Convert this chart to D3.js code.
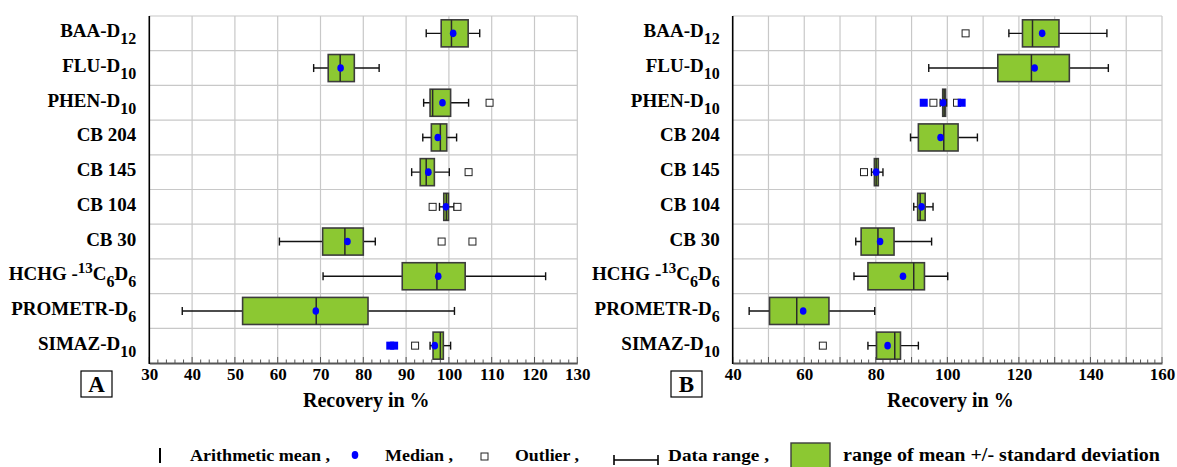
<!DOCTYPE html>
<html>
<head>
<meta charset="utf-8">
<script src="https://cdn.jsdelivr.net/npm/d3@7"></script>
<style>
  body { margin: 0; background: #fff; }
  svg { display: block; }
  text { font-family: "Liberation Serif", "Times New Roman", serif; font-weight: bold; fill: #000; }
</style>
</head>
<body>
<svg id="chart" width="1177" height="467"></svg>
<script>
// Compounds, top to bottom; each label is a list of [text, style] segments
const categories = ["BAA-D12", "FLU-D10", "PHEN-D10", "CB 204", "CB 145", "CB 104", "CB 30", "HCHG-13C6D6", "PROMETR-D6", "SIMAZ-D10"];
const categoryLabels = [
  [["BAA-D"], ["12", "sub"]],
  [["FLU-D"], ["10", "sub"]],
  [["PHEN-D"], ["10", "sub"]],
  [["CB 204"]],
  [["CB 145"]],
  [["CB 104"]],
  [["CB 30"]],
  [["HCHG -"], ["13", "sup"], ["C"], ["6", "sub"], ["D"], ["6", "sub"]],
  [["PROMETR-D"], ["6", "sub"]],
  [["SIMAZ-D"], ["10", "sub"]]
];

// Panel A – recovery in %
const boxLowA  = [98.2, 71.8, 95.6, 95.9, 93.3, 98.8, 70.5, 89.1, 51.8, 96.3];
const boxHighA = [104.5, 77.9, 100.4, 99.5, 96.6, 99.9, 80.0, 103.8, 81.1, 98.7];
const meanA    = [100.6, 74.6, 96.2, 98.0, 94.7, 99.4, 75.7, 97.2, 69.0, 98.0];
const medianA  = [101.0, 74.7, 98.5, 97.4, 95.2, 99.3, 76.3, 97.5, 68.9, 96.7];
const minA     = [94.7, 68.4, 94.1, 93.9, 91.3, 97.8, 60.4, 70.6, 37.7, 95.6];
const maxA     = [107.2, 83.7, 104.6, 101.8, 100.1, 101.2, 82.8, 122.6, 101.3, 100.4];
const outliersA = [[], [], [109.5], [], [104.6], [96.2, 102.0], [98.3, 105.5], [], [], [92.1]];
const extremesA = [[], [], [], [], [], [], [], [], [], [86.3, 87.2]];
const ticksA = [30, 40, 50, 60, 70, 80, 90, 100, 110, 120, 130];

// Panel B – recovery in %
const boxLowB  = [121.0, 114.1, 98.7, 91.9, 79.6, 91.7, 75.9, 77.8, 50.3, 80.2];
const boxHighB = [131.2, 134.1, 99.5, 103.0, 80.7, 93.8, 85.1, 93.6, 66.9, 86.9];
const meanB    = [123.8, 123.5, 99.1, 99.0, 80.1, 92.4, 80.6, 90.6, 57.9, 85.3];
const medianB  = [126.5, 124.4, 98.8, 98.1, 80.1, 92.8, 81.2, 87.6, 59.7, 83.3];
const minB     = [117.2, 94.8, 98.0, 89.7, 78.8, 90.6, 74.4, 73.9, 44.6, 77.8];
const maxB     = [144.6, 145.0, 99.8, 108.4, 82.0, 96.0, 95.6, 100.1, 79.7, 91.9];
const outliersB = [[105.1], [], [96.1, 102.7], [], [76.7], [], [], [], [], [65.2]];
const extremesB = [[], [], [93.4, 104.0], [], [], [], [], [], [], []];
const ticksB = [40, 60, 80, 100, 120, 140, 160];

const legendLabels = ["Arithmetic mean ,", "Median ,", "Outlier ,", "Data range ,", "range of mean +/- standard deviation"];

const GREEN = "#8cc832";
const BLUE = "#0000ff";
const GRID = "#c8c8c8";

const svg = d3.select("#chart");

function drawPanel(cfg) {
  const x = d3.scaleLinear().domain(cfg.domain).range([cfg.left, cfg.right]);
  const y = d3.scaleBand().domain(categories).range([cfg.top, cfg.bottom]).padding(0);
  const g = svg.append("g");
  const bw = y.bandwidth();
  const boxH = bw * 0.78;

  // vertical grid lines
  const gridVals = d3.range(cfg.domain[0] + cfg.gridStep, cfg.domain[1] + 0.001, cfg.gridStep);
  g.selectAll("line.vg").data(gridVals).join("line")
    .attr("x1", d => x(d)).attr("x2", d => x(d))
    .attr("y1", cfg.top).attr("y2", cfg.bottom)
    .attr("stroke", GRID).attr("stroke-width", 1.2);
  // horizontal grid lines at row boundaries + top border
  g.selectAll("line.hg").data(categories).join("line")
    .attr("x1", cfg.left).attr("x2", cfg.right)
    .attr("y1", d => y(d)).attr("y2", d => y(d))
    .attr("stroke", GRID).attr("stroke-width", 1.2);

  // bottom axis with minor ticks
  const axis = d3.axisBottom(x).tickValues(cfg.ticks).tickSize(0).tickPadding(5).tickFormat(d3.format("d"));
  const ax = g.append("g").attr("transform", `translate(0,${cfg.bottom})`).call(axis);
  ax.select(".domain").attr("stroke", "#555").attr("stroke-width", 2);
  ax.selectAll("text").style("font-size", "17px").style("font-family", "'Liberation Serif', serif").style("font-weight", "bold").attr("fill", "#000");
  const minor = d3.range(cfg.domain[0], cfg.domain[1] + 0.001, 2);
  g.selectAll("line.mt").data(minor).join("line")
    .attr("x1", d => x(d)).attr("x2", d => x(d))
    .attr("y1", cfg.bottom).attr("y2", d => cfg.bottom - ((Math.round(d) % 10 === 0) ? 6 : 3.5))
    .attr("stroke", "#555").attr("stroke-width", 1);

  // y axis line
  g.append("line").attr("x1", cfg.left).attr("x2", cfg.left)
    .attr("y1", cfg.top).attr("y2", cfg.bottom + 1)
    .attr("stroke", "#000").attr("stroke-width", 1.6);

  // category labels
  categories.forEach((c, i) => {
    const t = g.append("text")
      .attr("text-anchor", "end")
      .attr("x", cfg.left - 13)
      .attr("y", y(c) + bw / 2 + 4)
      .style("font-size", "19px");
    let shift = 0;
    categoryLabels[i].forEach(([s, kind]) => {
      const ts = t.append("tspan").text(s);
      let target = 0;
      if (kind === "sub") { target = 7; ts.style("font-size", "16px"); }
      else if (kind === "sup") { target = -7; ts.style("font-size", "15px"); }
      ts.attr("dy", target - shift);
      shift = target;
    });
  });

  // rows of box plots
  const rows = g.selectAll("g.row").data(categories).join("g")
    .attr("transform", d => `translate(0,${y(d) + bw / 2})`);

  // data range line with end caps
  rows.append("line")
    .attr("x1", (d, i) => x(cfg.min[i])).attr("x2", (d, i) => x(cfg.max[i]))
    .attr("y1", 0).attr("y2", 0).attr("stroke", "#111").attr("stroke-width", 1.4);
  rows.append("line")
    .attr("x1", (d, i) => x(cfg.min[i])).attr("x2", (d, i) => x(cfg.min[i]))
    .attr("y1", -4).attr("y2", 4).attr("stroke", "#111").attr("stroke-width", 1.4);
  rows.append("line")
    .attr("x1", (d, i) => x(cfg.max[i])).attr("x2", (d, i) => x(cfg.max[i]))
    .attr("y1", -4).attr("y2", 4).attr("stroke", "#111").attr("stroke-width", 1.4);

  // mean +/- sd box
  rows.append("rect")
    .attr("x", (d, i) => x(cfg.boxLow[i]))
    .attr("width", (d, i) => x(cfg.boxHigh[i]) - x(cfg.boxLow[i]))
    .attr("y", -boxH / 2).attr("height", boxH)
    .attr("fill", GREEN).attr("stroke", "#3c3c3c").attr("stroke-width", 1.6);

  // arithmetic mean line
  rows.append("line")
    .attr("x1", (d, i) => x(cfg.mean[i])).attr("x2", (d, i) => x(cfg.mean[i]))
    .attr("y1", -boxH / 2).attr("y2", boxH / 2)
    .attr("stroke", "#2a2a2a").attr("stroke-width", 1.5);

  // outliers
  rows.each(function (d, i) {
    const r = d3.select(this);
    r.selectAll("rect.out").data(cfg.outliers[i]).join("rect")
      .attr("x", v => x(v) - 3.5).attr("y", -3.5).attr("width", 7).attr("height", 7)
      .attr("fill", "#fff").attr("stroke", "#222").attr("stroke-width", 1);
    r.selectAll("rect.ext").data(cfg.extremes[i]).join("rect")
      .attr("x", v => x(v) - 4).attr("y", -4).attr("width", 8).attr("height", 8)
      .attr("fill", BLUE);
  });

  // median dot
  rows.append("ellipse")
    .attr("cx", (d, i) => x(cfg.median[i])).attr("cy", 0)
    .attr("rx", 3.3).attr("ry", 3.8).attr("fill", BLUE);

  // axis title
  g.append("text").attr("x", (cfg.left + cfg.right) / 2 + 3).attr("y", 407)
    .attr("text-anchor", "middle").style("font-size", "20px").text("Recovery in %");

  // panel letter
  g.append("rect").attr("x", cfg.letterX).attr("y", 371).attr("width", 31).attr("height", 26)
    .attr("fill", "#fff").attr("stroke", "#000").attr("stroke-width", 1.2);
  g.append("text").attr("x", cfg.letterX + 15.5).attr("y", 392)
    .attr("text-anchor", "middle").style("font-size", "23px").text(cfg.letter);
}

drawPanel({
  domain: [30, 130], left: 149.3, right: 577.3, top: 16, bottom: 363, gridStep: 10,
  ticks: ticksA, boxLow: boxLowA, boxHigh: boxHighA, mean: meanA, median: medianA,
  min: minA, max: maxA, outliers: outliersA, extremes: extremesA, letter: "A", letterX: 81
});
drawPanel({
  domain: [40, 160], left: 732.7, right: 1162, top: 16, bottom: 363, gridStep: 10,
  ticks: ticksB, boxLow: boxLowB, boxHigh: boxHighB, mean: meanB, median: medianB,
  min: minB, max: maxB, outliers: outliersB, extremes: extremesB, letter: "B", letterX: 671
});

// legend
const lg = svg.append("g");
const ly = 457;
lg.append("line").attr("x1", 160).attr("x2", 160).attr("y1", ly - 9).attr("y2", ly + 6)
  .attr("stroke", "#000").attr("stroke-width", 2);
lg.append("ellipse").attr("cx", 355).attr("cy", ly - 2).attr("rx", 3.3).attr("ry", 4).attr("fill", BLUE);
lg.append("rect").attr("x", 481).attr("y", ly - 4).attr("width", 7).attr("height", 7)
  .attr("fill", "#fff").attr("stroke", "#222").attr("stroke-width", 1);
lg.append("line").attr("x1", 614).attr("x2", 658).attr("y1", ly + 3).attr("y2", ly + 3).attr("stroke", "#000").attr("stroke-width", 1.6);
lg.append("line").attr("x1", 614).attr("x2", 614).attr("y1", ly - 2).attr("y2", ly + 8).attr("stroke", "#000").attr("stroke-width", 1.6);
lg.append("line").attr("x1", 658).attr("x2", 658).attr("y1", ly - 2).attr("y2", ly + 8).attr("stroke", "#000").attr("stroke-width", 1.6);
lg.append("rect").attr("x", 791).attr("y", 443).attr("width", 39).attr("height", 26)
  .attr("fill", GREEN).attr("stroke", "#3c3c3c").attr("stroke-width", 1.4);

const legendPos = [[190, 140, 16], [385, 68, 16], [515, 64, 16], [668, 101, 16], [843, 317, 18]];
legendLabels.forEach((s, i) => {
  const [lx, w, fs] = legendPos[i];
  lg.append("text").attr("x", lx).attr("y", ly + 4)
    .attr("textLength", w).attr("lengthAdjust", "spacingAndGlyphs")
    .style("font-size", fs + "px").text(s);
});
</script>
</body>
</html>
